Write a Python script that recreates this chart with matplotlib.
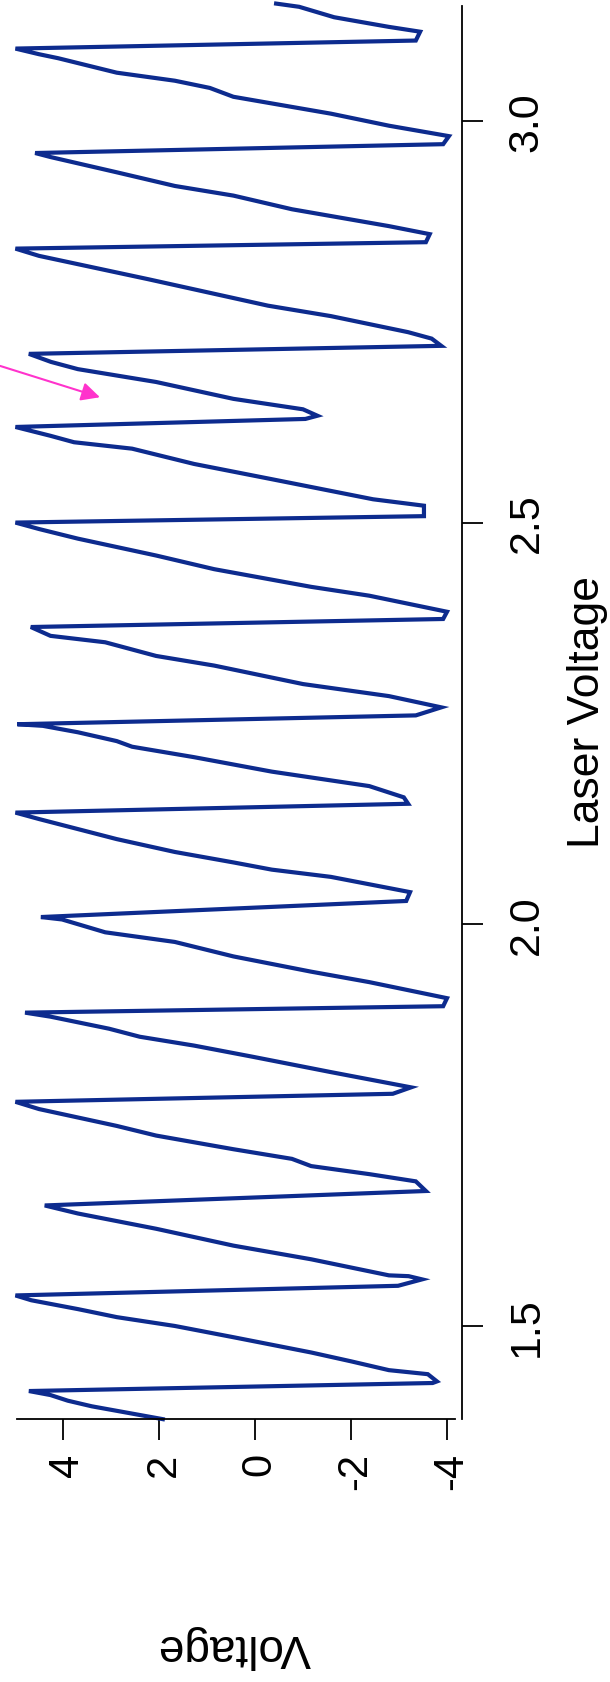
import matplotlib
matplotlib.use("Agg")
import matplotlib.pyplot as plt

plt.rcParams['font.family'] = ['Liberation Sans', 'DejaVu Sans']

# Laser voltage (vertical axis in picture) and measured voltage (horizontal axis)
laser_v = [1.384, 1.400, 1.407, 1.414, 1.419,
           1.429, 1.431, 1.440, 1.445, 1.456, 1.467, 1.486, 1.500, 1.511, 1.521, 1.532, 1.538,
           1.550, 1.558, 1.562, 1.563, 1.583, 1.600, 1.621, 1.640, 1.650,
           1.668, 1.680, 1.689, 1.699, 1.708, 1.720, 1.737, 1.749, 1.770, 1.779,
           1.789, 1.797, 1.816, 1.835, 1.849, 1.860, 1.870, 1.885, 1.890,
           1.898, 1.908, 1.928, 1.941, 1.960, 1.978, 1.990, 2.006, 2.009,
           2.029, 2.040, 2.059, 2.068, 2.077, 2.090, 2.106, 2.131, 2.139,
           2.150, 2.158, 2.172, 2.190, 2.208, 2.221, 2.228, 2.239, 2.247, 2.249,
           2.260, 2.270, 2.284, 2.299, 2.322, 2.334, 2.351, 2.359, 2.370,
           2.380, 2.389, 2.409, 2.420, 2.442, 2.459, 2.480, 2.492, 2.500,
           2.508, 2.521, 2.529, 2.554, 2.573, 2.592, 2.600, 2.608, 2.619,
           2.629, 2.633, 2.641, 2.654, 2.675, 2.691, 2.700, 2.710,
           2.720, 2.729, 2.737, 2.757, 2.770, 2.803, 2.832, 2.841,
           2.849, 2.859, 2.869, 2.890, 2.907, 2.919, 2.936, 2.955, 2.960,
           2.971, 2.981, 2.994, 3.009, 3.030, 3.041, 3.050, 3.060, 3.078, 3.083, 3.090,
           3.100, 3.111, 3.117, 3.129, 3.142, 3.146]
voltage = [1.92, 3.40, 3.90, 4.26, 4.71,
           -3.70, -3.79, -3.60, -2.79, -2.00, -1.17, 0.45, 1.67, 2.88, 3.69, 4.66, 4.99,
           -2.98, -3.48, -3.20, -2.79, -1.17, 0.45, 2.06, 3.69, 4.38,
           -3.56, -3.35, -2.38, -1.17, -0.77, 0.45, 2.06, 2.88, 4.50, 4.99,
           -2.87, -3.25, -1.58, 0.04, 1.27, 2.40, 3.04, 4.26, 4.79,
           -3.92, -4.00, -2.38, -1.17, 0.45, 1.67, 3.12, 4.02, 4.46,
           -3.15, -3.23, -1.58, -0.35, 0.45, 1.67, 2.88, 4.50, 4.99,
           -3.19, -3.10, -2.38, -0.35, 1.27, 2.56, 2.88, 3.69, 4.42, 4.95,
           -3.35, -3.88, -2.79, -1.00, 0.85, 2.06, 3.12, 4.26, 4.67,
           -3.92, -4.00, -2.38, -1.17, 0.85, 2.06, 3.69, 4.50, 4.99,
           -3.52, -3.52, -2.46, -0.35, 1.27, 2.56, 3.77, 4.26, 4.99,
           -1.05, -1.30, -1.00, 0.45, 2.06, 3.69, 4.25, 4.71,
           -3.88, -3.68, -3.19, -1.58, -0.27, 2.23, 4.50, 4.99,
           -3.56, -3.64, -2.79, -0.77, 0.45, 1.67, 2.88, 4.26, 4.58,
           -3.92, -4.04, -2.79, -1.58, 0.45, 0.94, 1.67, 2.88, 4.10, 4.50, 4.99,
           -3.35, -3.44, -2.79, -1.65, -0.92, -0.44]

voltage_ticks = [4, 2, 0, -2, -4]
laser_ticks = [1.5, 2.0, 2.5, 3.0]
laser_tick_labels = ["1.5", "2.0", "2.5", "3.0"]
x_label = "Voltage"
y_label = "Laser Voltage"
arrow_tail = (5.31, 2.695)
arrow_tip = (3.23, 2.656)

W, H = 610, 1683
fig = plt.figure(figsize=(W / 100, H / 100), dpi=100)
ax = fig.add_axes([17 / W, (H - 1420) / H, 445 / W, 1413 / H])

ax.plot(voltage, laser_v, color='#0d2b8e', lw=3.0, clip_on=False,
        solid_joinstyle='miter')

ax.set_xlim(4.958, -4.3125)
ax.set_ylim(1.3842, 3.143)

ax.spines['top'].set_visible(False)
ax.spines['left'].set_visible(False)
ax.spines['bottom'].set_bounds(4.958, -4.167)
for s in ('bottom', 'right'):
    ax.spines[s].set_linewidth(1.3)

ax.yaxis.tick_right()
ax.set_xticks(voltage_ticks)
ax.set_xticklabels([str(v) for v in voltage_ticks], fontsize=30)
for lab in ax.get_xticklabels():
    lab.set_rotation(90)
    lab.set_rotation_mode('anchor')
    lab.set_horizontalalignment('right')
    lab.set_verticalalignment('center_baseline')
ax.set_yticks(laser_ticks)
ax.set_yticklabels(laser_tick_labels, rotation=90, fontsize=31, va='center')
ax.tick_params(axis='x', length=15, width=1.3, pad=9)
ax.tick_params(axis='y', length=15, width=1.3, pad=17)

fig.text(587 / W, 1 - 712 / H, y_label, rotation=90, ha='center', va='center', fontsize=32)
fig.text(234 / W, 1 - 1647 / H, x_label, rotation=180, ha='center', va='center', fontsize=33)

ax.annotate('', xy=arrow_tip, xytext=arrow_tail, annotation_clip=False,
            arrowprops=dict(arrowstyle='-|>', color='#ff33cc', lw=1.5,
                            mutation_scale=28, shrinkA=0, shrinkB=0))

fig.savefig('out.png', dpi=100)
